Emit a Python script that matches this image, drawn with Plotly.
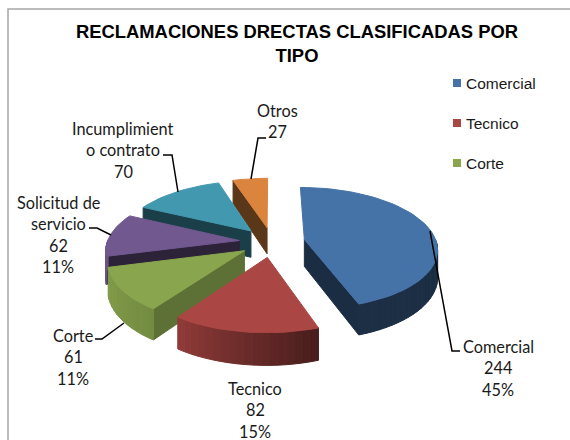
import numpy as np
import plotly.graph_objects as go

categories = ["Comercial", "Tecnico", "Corte", "Solicitud de servicio", "Incumplimiento contrato", "Otros"]
values = [244, 82, 61, 62, 70, 27]
top_colors = ["#4572A7", "#AA4643", "#89A54E", "#71588F", "#4198AF", "#DB843D"]
cut_shade = [0.40, 0.42, 0.68, 0.40, 0.42, 0.42]
legend_items = ["Comercial", "Tecnico", "Corte"]
label_lines = [
    ["Comercial", "244", "45%"],
    ["Tecnico", "82", "15%"],
    ["Corte", "61", "11%"],
    ["Solicitud de", "servicio", "62", "11%"],
    ["Incumplimient", "o contrato", "70"],
    ["Otros", "27"],
]
label_x = [498, 255, 73, 58, 123, 277]
label_y = [346, 388, 335, 202, 128, 110]
label_dy = 21.5
leaders = [
    ([430, 452, 460], [231, 351, 351]),
    None,
    ([124, 102, 95], [323, 339, 339]),
    ([111, 97, 89], [235, 228, 228]),
    ([178, 172, 163], [192, 155, 155]),
    ([251, 258, 266], [179, 138, 138]),
]

CX, CY, RX, RY, PERSP, DEPTH, EXPLODE = 272, 242, 132, 60, 0.14, 27, 0.25


def project(X, Y, drop=0.0):
    w = 1 + PERSP * np.asarray(Y)
    return CX + RX * np.asarray(X) / w, CY - RY * np.asarray(Y) / w + drop / w


def shade(hex_color, f):
    rgb = [int(hex_color[i:i + 2], 16) for i in (1, 3, 5)]
    return "#%02x%02x%02x" % tuple(int(c * f) for c in rgb)


def wall_factor(deg):
    return float(np.interp(deg, [90, 161, 215, 255, 360], [0.40, 0.42, 0.85, 0.95, 0.95]))


fig = go.Figure()


def poly(xs, ys, color):
    fig.add_trace(go.Scatter(
        x=list(xs) + [xs[0]], y=list(ys) + [ys[0]], mode="lines", fill="toself",
        fillcolor=color, line=dict(color=color, width=1), hoverinfo="skip", showlegend=False))


edges = np.concatenate([[0], np.cumsum(values)]) / sum(values) * 360.0

for idx in reversed(range(len(values))):
    a0, a1 = edges[idx], edges[idx + 1]
    mid = np.radians((a0 + a1) / 2)
    ox, oy = EXPLODE * np.sin(mid), EXPLODE * np.cos(mid)
    deg = np.linspace(a0, a1, max(3, int((a1 - a0) / 3) + 1))
    X = ox + np.sin(np.radians(deg))
    Y = oy + np.cos(np.radians(deg))
    col = top_colors[idx]

    # cut faces that look towards the viewer
    visible = [(X[0], Y[0], np.sin(np.radians(a0)) < 0), (X[-1], Y[-1], np.sin(np.radians(a1)) > 0)]
    for ex, ey, show in visible:
        if show:
            p = [(ox, oy, 0), (ex, ey, 0), (ex, ey, DEPTH), (ox, oy, DEPTH)]
            xs = [float(project(a, b, d)[0]) for a, b, d in p]
            ys = [float(project(a, b, d)[1]) for a, b, d in p]
            poly(xs, ys, shade(col, cut_shade[idx]))

    # outer wall, in narrow strips so the shading can change with the angle
    for j in range(len(deg) - 1):
        if np.cos(np.radians((deg[j] + deg[j + 1]) / 2)) > 0:
            continue
        x0, y0 = project(X[j:j + 2], Y[j:j + 2])
        x1, y1 = project(X[j:j + 2], Y[j:j + 2], DEPTH)
        poly([x0[0], x0[1], x1[1], x1[0]], [y0[0], y0[1], y1[1], y1[0]],
             shade(col, wall_factor((deg[j] + deg[j + 1]) / 2)))

    # top face
    tx, ty = project(np.concatenate([[ox], X]), np.concatenate([[oy], Y]))
    poly(list(tx), list(ty), col)

# leader lines
for leader in leaders:
    if leader:
        fig.add_trace(go.Scatter(x=leader[0], y=leader[1], mode="lines",
                                 line=dict(color="black", width=1.5), hoverinfo="skip", showlegend=False))

# legend
LEG_X, LEG_Y, LEG_STEP = 457, 83, 40
annotations = []
for i, name in enumerate(legend_items):
    fig.add_trace(go.Scatter(x=[LEG_X], y=[LEG_Y + i * LEG_STEP], mode="markers",
                             marker=dict(symbol="square", size=8, color=top_colors[i]),
                             hoverinfo="skip", showlegend=False))
    annotations.append(dict(x=LEG_X + 7, y=LEG_Y + i * LEG_STEP, text=name, showarrow=False,
                            xanchor="left", yanchor="middle", xref="x", yref="y",
                            font=dict(family="Liberation Sans", size=15.5, color="#1a1a1a")))

for lines, lx, ly in zip(label_lines, label_x, label_y):
    for k, line in enumerate(lines):
        annotations.append(dict(x=lx, y=ly + k * label_dy, text=line, showarrow=False,
                                xanchor="center", yanchor="middle", xref="x", yref="y",
                                font=dict(family="Lato", size=16.3, color="#1a1a1a")))

fig.update_layout(
    width=570, height=440, autosize=False,
    margin=dict(l=0, r=0, t=0, b=0),
    paper_bgcolor="white", plot_bgcolor="white", showlegend=False,
    title=dict(text="<b>RECLAMACIONES DRECTAS CLASIFICADAS POR<br>TIPO</b>",
               x=297 / 570, xanchor="center", y=0.946, yanchor="top", yref="container",
               pad=dict(t=14),
               font=dict(family="Liberation Sans", size=18.4, color="black")),
    xaxis=dict(range=[0, 570], visible=False, fixedrange=True),
    yaxis=dict(range=[440, 0], visible=False, fixedrange=True),
    annotations=annotations,
    shapes=[dict(type="rect", xref="x", yref="y", x0=8, y0=9, x1=600, y1=470,
                 line=dict(color="#a6a6a6", width=1.5), fillcolor="rgba(0,0,0,0)", layer="below")],
)
fig.write_html("out.html", config={"displayModeBar": False},
               post_script="document.body.style.margin='0';document.body.style.overflow='hidden';")
